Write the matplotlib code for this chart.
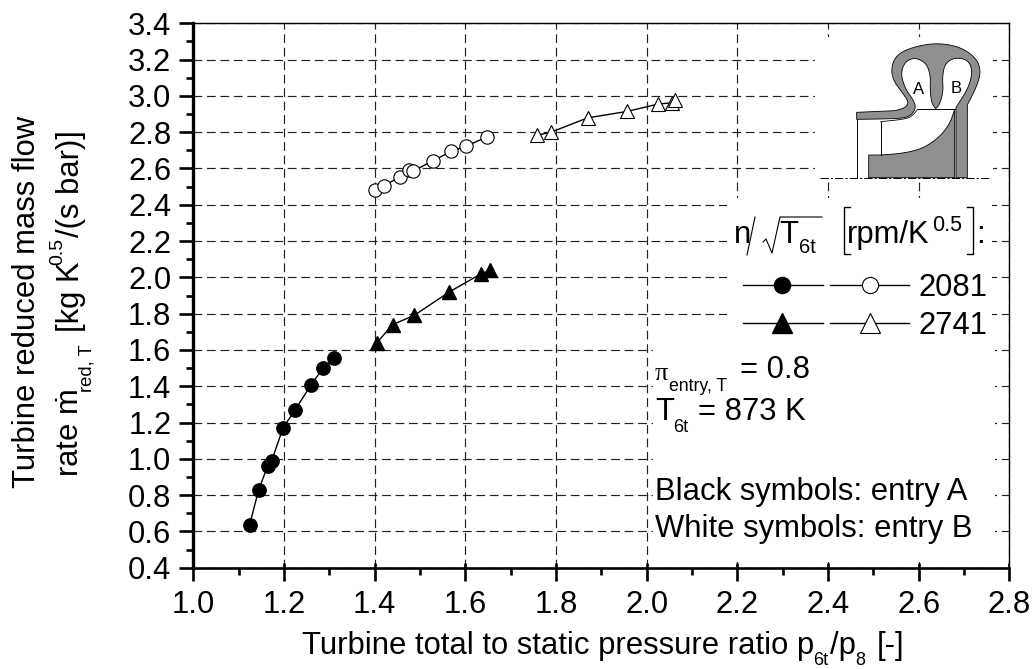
import numpy as np
import matplotlib
matplotlib.use("Agg")
import matplotlib.pyplot as plt
from matplotlib.patches import Rectangle, Polygon
from matplotlib.transforms import Affine2D

plt.rcParams['font.family'] = ['Liberation Sans', 'DejaVu Sans']
plt.rcParams['mathtext.fontset'] = 'custom'
plt.rcParams['mathtext.rm'] = 'Liberation Sans'
plt.rcParams['mathtext.it'] = 'Liberation Sans'
plt.rcParams['mathtext.bf'] = 'Liberation Sans'
plt.rcParams['lines.scale_dashes'] = False

# ---- data ----
a2081_x = [1.124, 1.144, 1.164, 1.173, 1.198, 1.224, 1.259, 1.286, 1.311]
a2081_y = [0.634, 0.828, 0.960, 0.990, 1.171, 1.267, 1.405, 1.499, 1.554]
a2741_x = [1.405, 1.440, 1.487, 1.565, 1.635, 1.655]
a2741_y = [1.640, 1.740, 1.790, 1.920, 2.020, 2.040]
b2081_x = [1.400, 1.421, 1.456, 1.476, 1.484, 1.528, 1.569, 1.601, 1.647]
b2081_y = [2.483, 2.505, 2.554, 2.591, 2.584, 2.642, 2.694, 2.722, 2.773]
b2741_x = [1.759, 1.788, 1.870, 1.956, 2.026, 2.056, 2.062]
b2741_y = [2.784, 2.799, 2.879, 2.914, 2.955, 2.962, 2.975]
x_ticks = [1.0, 1.2, 1.4, 1.6, 1.8, 2.0, 2.2, 2.4, 2.6, 2.8]
y_ticks = [0.4, 0.6, 0.8, 1.0, 1.2, 1.4, 1.6, 1.8, 2.0, 2.2, 2.4, 2.6, 2.8, 3.0, 3.2, 3.4]
speeds = ['2081', '2741']

W, H = 1034, 669
fig = plt.figure(figsize=(W / 100, H / 100), dpi=100)
L, R, T, B = 193.3, 1009.3, 23.3, 567.7
ax = fig.add_axes([L / W, 1 - B / H, (R - L) / W, (B - T) / H])
pix = Affine2D().scale(1, -1).translate(0, H)

ax.set_xlim(1.0, 2.8)
ax.set_ylim(0.4, 3.4)
ax.set_xticks(x_ticks)
ax.set_yticks(y_ticks)
ax.set_xticks(np.arange(1.1, 2.8, 0.2), minor=True)
ax.set_yticks(np.arange(0.5, 3.4, 0.2), minor=True)
ax.set_xticklabels([f'{v:.1f}' for v in x_ticks])
ax.set_yticklabels([f'{v:.1f}' for v in y_ticks])
FS = 22.3
ax.tick_params(axis='x', which='major', length=9.4, width=1.9, labelsize=FS, pad=6.5)
ax.tick_params(axis='y', which='major', length=10, width=1.9, labelsize=FS, pad=5.8)
ax.tick_params(which='minor', length=5, width=1.9)
ax.spines['left'].set_linewidth(2.4)
ax.spines['bottom'].set_linewidth(1.9)
for s in ('top', 'right'):
    ax.spines[s].set_linewidth(1.0)
ax.set_axisbelow(True)
ax.grid(True, which='major', color='#222222', lw=0.85, ls=(0, (6.3, 3.4)))
# major x ticks also poke a little into the plot
ax.vlines(x_ticks, 0, 4.5 / (B - T), transform=ax.get_xaxis_transform(), color='black', lw=1.9, zorder=2.4)

# white regions that hide the grid under the annotations
for (x0, y0, x1, y1) in [(815, 37, 993, 181), (727, 198, 992, 342), (653, 338, 995, 562)]:
    ax.add_patch(Rectangle((x0, y0), x1 - x0, y1 - y0, transform=pix,
                           fc='white', ec='none', zorder=1.5, clip_on=False))

# ---- series ----
line_kw = dict(color='black', lw=1.0, zorder=3, clip_on=False)
ax.plot(a2081_x, a2081_y, '-o', ms=9.6, mfc='black', mec='black', **line_kw)
ax.plot(a2741_x, a2741_y, '-^', ms=10.5, mfc='black', mec='black', **line_kw)
ax.plot(b2081_x, b2081_y, '-o', ms=9.6, mfc='white', mec='black', mew=0.8, **line_kw)
ax.plot(b2741_x, b2741_y, '-^', ms=10.5, mfc='white', mec='black', mew=0.8, **line_kw)


def tx(x, y, s, size=FS, **kw):
    kw.setdefault('va', 'baseline')
    kw.setdefault('ha', 'left')
    return fig.text(x, y, s, transform=pix, fontsize=size, color='black', zorder=6, **kw)


def ln(xs, ys, lw=0.8, **kw):
    fig.add_artist(plt.Line2D(xs, ys, transform=pix, color='black', lw=lw, zorder=6, **kw))


# ---- axis labels ----
tx(302, 654, 'Turbine total to static pressure ratio p')
tx(813, 665, '6t', size=13)
tx(830, 654, '/p')
tx(855, 665, '8', size=13)
tx(877, 654, '[-]')

rot = dict(rotation=90, rotation_mode='anchor')
tx(35, 302, 'Turbine reduced mass flow', ha='center', **rot)
tx(79, 477, r'rate $\dot{\mathrm{m}}$', **rot)
tx(92, 392, 'red, T', size=13.3, **rot)
tx(79, 332, '[kg K', **rot)
tx(62, 265, '0.5', size=14, **rot)
tx(79, 237, '/(s bar)]', **rot)

# ---- legend header ----
tx(734, 243, 'n')
ln([755, 747], [217, 255])
ln([763, 766, 772, 780, 822], [242, 239, 253, 217, 217])
tx(779, 243, 'T')
tx(799, 253, '6t', size=14.5)
ln([850, 844, 844, 850], [207, 207, 254, 254], lw=1.0)
tx(847, 243, 'rpm/K')
tx(932, 231, '0.5', size=15.5)
ln([967, 973, 973, 967], [207, 207, 254, 254], lw=1.0)
tx(976, 243, ':')

# ---- legend entries ----
rows = [(285, 'o', 11.6, 11.6), (323, '^', 14, 14)]
for (yy, mk, ms_a, ms_b), label in zip(rows, speeds):
    ln([743, 823], [yy, yy], lw=1.0)
    ln([830, 909], [yy, yy], lw=1.0)
    ln([782], [yy], marker=mk, ms=ms_a, mfc='black', mec='black', ls='none')
    ln([870], [yy], marker=mk, ms=ms_b, mfc='white', mec='black', mew=0.8, ls='none')
    tx(918, yy + 11, label)

# ---- conditions ----
tx(655, 380, '\u03c0', size=19, family='Liberation Serif')
tx(669, 391, 'entry, T', size=12.7)
tx(740, 378, '= 0.8')
tx(655, 420, 'T')
tx(673, 432, '6t', size=13)
tx(698, 420, '= 873 K')
tx(655, 500, 'Black symbols: entry A')
tx(655, 537, 'White symbols: entry B')


# ---- turbine schematic (coordinates of the sketch, 3 units per pixel) ----
def smooth(points, n=3):
    p = np.asarray(points, float)
    for _ in range(n):
        q = np.empty((2 * len(p) - 2 + 2, 2))
        q[0] = p[0]
        q[-1] = p[-1]
        q[1:-1:2] = 0.75 * p[:-1] + 0.25 * p[1:]
        q[2:-1:2] = 0.25 * p[:-1] + 0.75 * p[1:]
        p = q
    return p


sk = Affine2D().scale(1 / 3).translate(780, 20) + pix
outer = smooth([(345, 272), (375, 264), (387, 247), (365, 215), (342, 185), (333, 150), (345, 110),
                (385, 85), (465, 68), (540, 80), (590, 115), (603, 155), (590, 200), (562, 255)])
inner_b = smooth([(528, 262), (565, 205), (578, 155), (565, 120), (525, 112), (495, 130), (487, 170),
                  (490, 215), (478, 255), (467, 266)])
inner_a = smooth([(467, 266), (455, 250), (450, 210), (452, 170), (440, 130), (405, 112), (375, 125),
                  (362, 160), (375, 205), (400, 240), (408, 262), (395, 285), (370, 295), (300, 297)])
body = np.vstack([[(230, 277)], outer, [(562, 473), (528, 473)], inner_b, inner_a, [(230, 298)]])
rotor = np.vstack([[(266, 473), (266, 405)],
                   smooth([(302, 405), (370, 400), (430, 385), (480, 350), (510, 310), (524, 268)]),
                   [(524, 473)]])
for shape in (body, rotor):
    fig.add_artist(Polygon(shape, closed=True, transform=sk, fc='#8f8f8f', ec='black', lw=0.6, zorder=5))
passage = smooth([(302, 305), (370, 298), (395, 290), (413, 268)], 2)
fig.add_artist(plt.Line2D(passage[:, 0], passage[:, 1], transform=sk, color='black', lw=0.6, zorder=5))
for xs, ys in [([413, 524], [268, 268]), ([302, 302], [305, 405]), ([230, 230], [298, 473])]:
    fig.add_artist(plt.Line2D(xs, ys, transform=sk, color='black', lw=0.7, zorder=5))
fig.add_artist(plt.Line2D([120, 632], [475, 475], transform=sk, color='black', lw=0.7,
                          ls=(0, (6, 1.5, 1.5, 1.5)), zorder=5))
tx(913, 94, 'A', size=12)
tx(951, 93, 'B', size=12)

fig.savefig('out.png', dpi=100, facecolor='white')
